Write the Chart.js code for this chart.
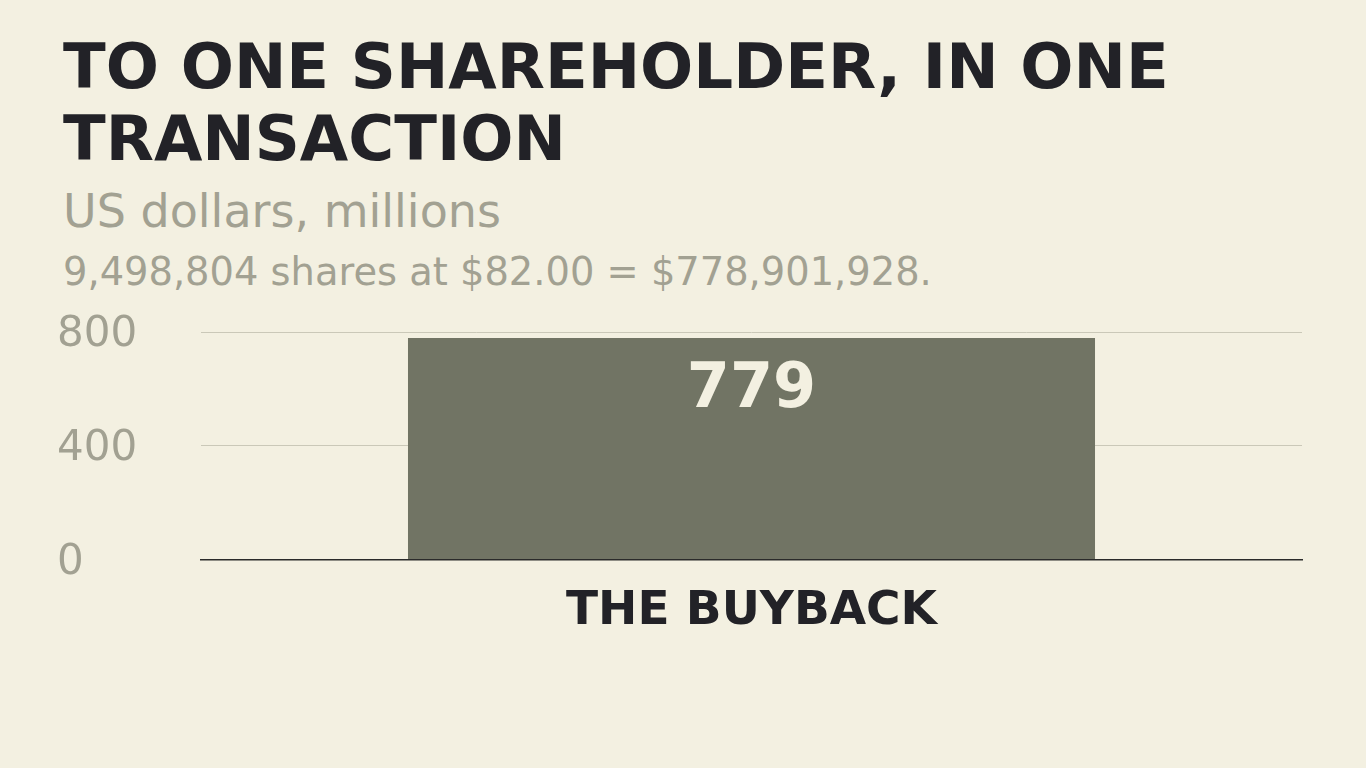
<!DOCTYPE html>
<html lang="en">
<head>
    <meta charset="UTF-8">
    <title>buyback</title>
    <script src="https://cdn.jsdelivr.net/npm/chart.js"></script>
    <style>
        html, body { margin: 0; padding: 0; background: #f3f0e1; }
        body { width: 1366px; height: 768px; position: relative; overflow: hidden; font-family: "DejaVu Sans", sans-serif; }
        .title { position: absolute; left: 63px; top: 31px; font-size: 62.6px; line-height: 72px; font-weight: bold; color: #222227; }
        .sub { position: absolute; left: 63px; top: 188px; font-size: 46px; line-height: 46px; color: #a2a192; }
        .note { position: absolute; left: 63px; top: 253px; font-size: 38.4px; line-height: 38px; color: #a2a192; }
        #wrap { position: absolute; left: 0; top: 0; width: 1366px; height: 768px; }
    </style>
</head>
<body>
    <div class="title">TO ONE SHAREHOLDER, IN ONE<br>TRANSACTION</div>
    <div class="sub">US dollars, millions</div>
    <div class="note">9,498,804 shares at $82.00 = $778,901,928.</div>
    <div id="wrap"><canvas id="chart"></canvas></div>

    <script>
        const categories = ['THE BUYBACK'];
        const values = [779];
        const yTicks = [0, 400, 800];

        // value label drawn inside the bar, near its top
        const valueLabels = {
            id: 'valueLabels',
            afterDatasetsDraw(chart) {
                const ctx = chart.ctx;
                const meta = chart.getDatasetMeta(0);
                ctx.save();
                ctx.font = 'bold 62px "DejaVu Sans"';
                ctx.fillStyle = '#f3f0e1';
                ctx.textAlign = 'center';
                ctx.textBaseline = 'alphabetic';
                meta.data.forEach((bar, i) => {
                    ctx.fillText(String(values[i]), bar.x, bar.y + 69);
                });
                ctx.restore();
            }
        };

        new Chart(document.getElementById('chart'), {
            type: 'bar',
            data: {
                labels: categories,
                datasets: [{
                    data: values,
                    backgroundColor: '#717464',
                    barPercentage: 0.624,
                    categoryPercentage: 1
                }]
            },
            options: {
                responsive: true,
                maintainAspectRatio: false,
                animation: false,
                layout: { padding: { left: 57, right: 64, top: 332, bottom: 104 } },
                plugins: { legend: { display: false }, tooltip: { enabled: false } },
                scales: {
                    x: {
                        grid: { display: false, drawTicks: false },
                        border: { display: true, color: '#2a2a2a', width: 1.5 },
                        ticks: {
                            color: '#222227',
                            padding: 24,
                            font: { family: 'DejaVu Sans', size: 47, weight: 'bold' }
                        }
                    },
                    y: {
                        min: 0,
                        max: 800,
                        afterBuildTicks(scale) { scale.ticks = yTicks.map(v => ({ value: v })); },
                        afterFit(scale) { scale.width = 144; },
                        grid: { color: '#cac8b8', lineWidth: 1, drawTicks: false },
                        border: { display: false },
                        ticks: {
                            color: '#a2a192',
                            crossAlign: 'far',
                            padding: 10,
                            labelOffset: 3,
                            font: { family: 'DejaVu Sans', size: 42 }
                        }
                    }
                }
            },
            plugins: [valueLabels]
        });
    </script>
</body>
</html>
